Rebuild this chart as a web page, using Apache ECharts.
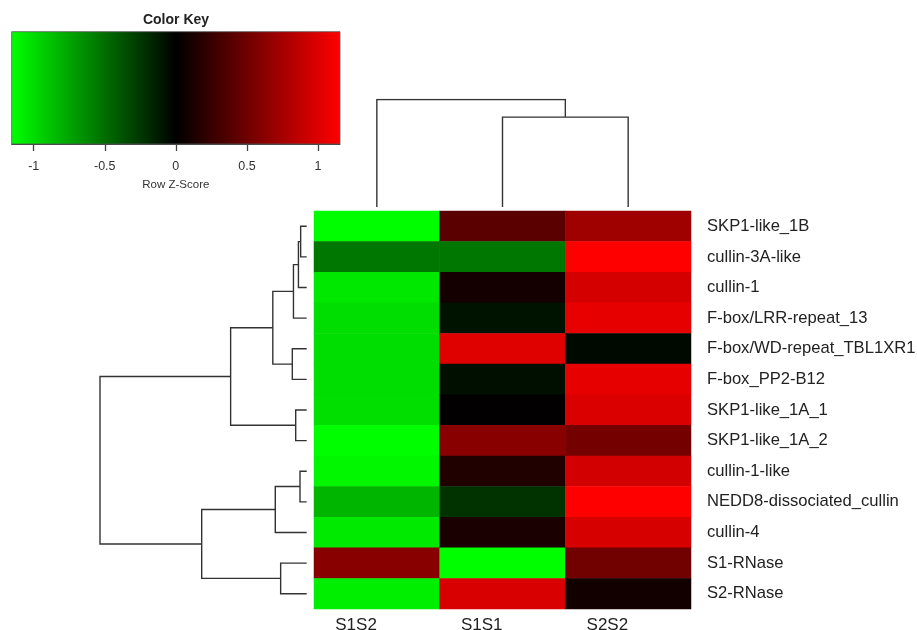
<!DOCTYPE html>
<html>
<head>
<meta charset="utf-8">
<script src="https://cdn.jsdelivr.net/npm/echarts@6/dist/echarts.min.js"></script>
<style>html,body{margin:0;padding:0;background:#fff;}#c{width:917px;height:630px;}</style>
</head>
<body>
<div id="c"></div>
<script>
// ---- data ----
var colLabels = ['S1S2', 'S1S1', 'S2S2'];
var rowLabels = ['SKP1-like_1B', 'cullin-3A-like', 'cullin-1', 'F-box/LRR-repeat_13',
  'F-box/WD-repeat_TBL1XR1', 'F-box_PP2-B12', 'SKP1-like_1A_1', 'SKP1-like_1A_2',
  'cullin-1-like', 'NEDD8-dissociated_cullin', 'cullin-4', 'S1-RNase', 'S2-RNase'];
// row z-scores per column (rows in display order, top to bottom)
var zS1S2 = [-1.15, -0.54, -1.05, -1.00, -1.00, -1.00, -1.01, -1.15, -1.12, -0.82, -1.06, 0.62, -1.08];
var zS1S1 = [0.41, -0.54, 0.09, -0.08, 1.01, -0.07, 0.01, 0.62, 0.15, -0.23, 0.12, -1.15, 0.98];
var zS2S2 = [0.72, 1.15, 0.96, 1.04, -0.04, 1.04, 0.99, 0.53, 0.95, 1.15, 0.97, 0.51, 0.08];
// colour key range and tick labels
var keyRange = [-1.1547, 1.1547];
var keyTicks = [-1, -0.5, 0, 0.5, 1];
// hclust-style merges: negative = leaf (1-based display position), positive = earlier merge (1-based); [a, b, height]
var rowMerges = [[-1, -2, 0.073], [1, -3, 0.10], [2, -4, 0.16], [-5, -6, 0.174], [3, 4, 0.41],
  [-7, -8, 0.133], [5, 6, 0.92], [-9, -10, 0.081], [8, -11, 0.38], [-12, -13, 0.315],
  [9, 10, 1.27], [7, 11, 2.5]];
var colMerges = [[-2, -3, 2.25], [-1, 1, 2.69]];

// ---- build ----
var colValues = [zS1S2, zS1S1, zS2S2];
var heatData = [];
for (var c = 0; c < colLabels.length; c++)
  for (var r = 0; r < rowLabels.length; r++) heatData.push([c, r, colValues[c][r]]);

function dendroSegments(merges, swap) {
  var pos = [], hgt = [], segs = [];
  function info(i) { return i < 0 ? [-i - 1, 0] : [pos[i - 1], hgt[i - 1]]; }
  merges.forEach(function (m) {
    var a = info(m[0]), b = info(m[1]), h = m[2];
    var pts = [[a[1], a[0]], [h, a[0]], [h, b[0]], [b[1], b[0]]];
    if (swap) pts = pts.map(function (p) { return [p[1], p[0]]; });
    segs.push({ coords: pts });
    pos.push((a[0] + b[0]) / 2); hgt.push(h);
  });
  return segs;
}
var rowSegs = dendroSegments(rowMerges, false);
var colSegs = dendroSegments(colMerges, true);
var rowMax = Math.max.apply(null, rowMerges.map(function (m) { return m[2]; }));
var colMax = Math.max.apply(null, colMerges.map(function (m) { return m[2]; }));

var FONT = 'Liberation Sans, Arial, sans-serif';
var LINE = { color: '#333', width: 1.4, opacity: 1 };
var hidden = { show: false };

var chart = echarts.init(document.getElementById('c'), null, { renderer: 'canvas' });
chart.setOption({
  backgroundColor: '#fff',
  animation: false,
  title: { text: 'Color Key', left: 176, top: 13, textAlign: 'center', padding: 0,
    textStyle: { fontFamily: FONT, fontWeight: 'bold', fontSize: 14, color: '#222' } },
  grid: [
    { left: 11.7, top: 31.7, width: 328.3, height: 112.3, outerBoundsMode: 'none', containLabel: false },
    { left: 314, top: 99.5, width: 377, height: 107.5, outerBoundsMode: 'none', containLabel: false },
    { left: 100, top: 211, width: 206.7, height: 398, outerBoundsMode: 'none', containLabel: false },
    { left: 314, top: 211, width: 377, height: 398, outerBoundsMode: 'none', containLabel: false }
  ],
  xAxis: [
    { gridIndex: 0, type: 'value', min: keyRange[0], max: keyRange[1],
      axisLine: { show: true, lineStyle: { color: '#444', width: 1 } },
      axisTick: { show: true, length: 7, customValues: keyTicks, lineStyle: { color: '#444', width: 1.3 } },
      axisLabel: { show: true, customValues: keyTicks, margin: 16, fontFamily: FONT, fontSize: 12.5, color: '#333' },
      splitLine: hidden,
      name: 'Row Z-Score', nameLocation: 'middle', nameGap: 35,
      nameTextStyle: { fontFamily: FONT, fontSize: 11.5, color: '#333' } },
    { gridIndex: 1, type: 'value', min: -0.5, max: 2.5, show: false },
    { gridIndex: 2, type: 'value', min: 0, max: rowMax, inverse: true, show: false },
    { gridIndex: 3, type: 'category', data: colLabels, position: 'bottom',
      axisLine: hidden, axisTick: hidden, splitLine: hidden,
      axisLabel: { align: 'right', margin: 8, fontFamily: FONT, fontSize: 17, color: '#222' } }
  ],
  yAxis: [
    { gridIndex: 0, type: 'value', min: 0, max: 1, show: false },
    { gridIndex: 1, type: 'value', min: 0, max: colMax, show: false },
    { gridIndex: 2, type: 'value', min: -0.5, max: rowLabels.length - 0.5, inverse: true, show: false },
    { gridIndex: 3, type: 'category', data: rowLabels, inverse: true, position: 'right',
      axisLine: hidden, axisTick: hidden, splitLine: hidden,
      axisLabel: { align: 'left', margin: 16, fontFamily: FONT, fontSize: 16.6, color: '#222' } }
  ],
  visualMap: {
    show: false, type: 'continuous', seriesIndex: 3,
    min: keyRange[0], max: keyRange[1],
    inRange: { color: ['#00ff00', '#000000', '#ff0000'] }
  },
  series: [
    { type: 'custom', xAxisIndex: 0, yAxisIndex: 0, silent: true,
      data: [[keyRange[0], keyRange[1]]],
      renderItem: function (params, api) {
        var p0 = api.coord([api.value(0), 1]);
        var p1 = api.coord([api.value(1), 0]);
        return { type: 'rect',
          shape: { x: p0[0], y: p0[1], width: p1[0] - p0[0], height: p1[1] - p0[1] },
          style: { fill: new echarts.graphic.LinearGradient(0, 0, 1, 0, [
            { offset: 0, color: '#00ff00' }, { offset: 0.5, color: '#000000' }, { offset: 1, color: '#ff0000' }]),
            stroke: '#555', lineWidth: 0.8 } };
      } },
    { type: 'lines', coordinateSystem: 'cartesian2d', xAxisIndex: 1, yAxisIndex: 1,
      polyline: true, silent: true, lineStyle: LINE, data: colSegs },
    { type: 'lines', coordinateSystem: 'cartesian2d', xAxisIndex: 2, yAxisIndex: 2,
      polyline: true, silent: true, lineStyle: LINE, data: rowSegs },
    { type: 'heatmap', xAxisIndex: 3, yAxisIndex: 3, data: heatData,
      itemStyle: { borderWidth: 0 }, emphasis: { disabled: true } }
  ]
});
</script>
</body>
</html>
